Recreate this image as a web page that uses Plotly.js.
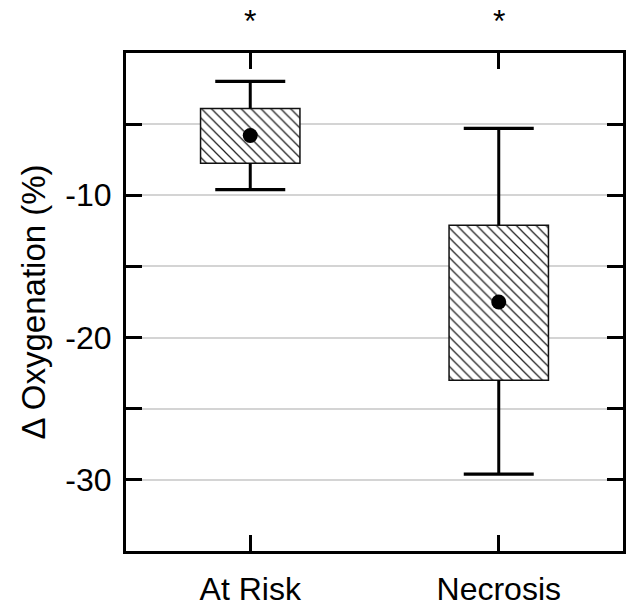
<!DOCTYPE html>
<html>
<head>
<meta charset="utf-8">
<script src="https://cdn.plot.ly/plotly-3.0.1.min.js"></script>
<style>html,body{margin:0;padding:0;background:#fff;}#chart{width:627px;height:612px;}</style>
</head>
<body>
<div id="chart"></div>
<script>
// Data
var categories = ['At Risk', 'Necrosis'];
var whiskerTop = [-2.0, -5.3];
var boxTop = [-3.9, -12.1];
var meanVal = [-5.8, -17.5];
var boxBottom = [-7.75, -23.0];
var whiskerBottom = [-9.6, -29.6];
var significance = ['*', '*'];
var yTickVals = [-5, -10, -15, -20, -25, -30];
var yTickText = ['', '-10', '', '-20', '', '-30'];

var FONT = 'Liberation Sans, Arial, sans-serif';

// hatched boxes
var boxTrace = {
  type: 'bar',
  x: categories,
  base: boxBottom,
  y: boxTop.map(function (t, i) { return t - boxBottom[i]; }),
  width: 0.4,
  marker: {
    color: 'white',
    line: { color: '#111', width: 1.5 },
    pattern: { shape: '\\', fgcolor: '#222', bgcolor: 'white', size: 7, solidity: 0.18, fillmode: 'replace' }
  },
  hoverinfo: 'skip',
  showlegend: false
};

// whisker stems
var wx = [], wy = [];
categories.forEach(function (c, i) {
  wx.push(c, c, null, c, c, null);
  wy.push(boxTop[i], whiskerTop[i], null, boxBottom[i], whiskerBottom[i], null);
});
var stemTrace = {
  type: 'scatter', mode: 'lines', x: wx, y: wy,
  line: { color: 'black', width: 3 }, hoverinfo: 'skip', showlegend: false, connectgaps: false
};

// whisker caps
var capTrace = {
  type: 'scatter', mode: 'markers',
  x: categories.concat(categories),
  y: whiskerTop.concat(whiskerBottom),
  marker: { symbol: 'line-ew-open', size: 50, color: 'black', line: { color: 'black', width: 3.2 } },
  hoverinfo: 'skip', showlegend: false
};

// mean dots
var meanTrace = {
  type: 'scatter', mode: 'markers', x: categories, y: meanVal,
  marker: { symbol: 'circle', size: 15, color: 'black' },
  hoverinfo: 'skip', showlegend: false
};

var annotations = categories.map(function (c, i) {
  return {
    x: c, xref: 'x', y: 1, yref: 'paper', yanchor: 'bottom', yshift: 12,
    text: significance[i], showarrow: false,
    font: { family: FONT, size: 32, color: 'black' }
  };
});

var layout = {
  width: 627, height: 612,
  margin: { l: 126, r: 4, t: 53, b: 61 },
  paper_bgcolor: 'white', plot_bgcolor: 'white',
  barmode: 'overlay',
  showlegend: false,
  font: { family: FONT, color: 'black' },
  xaxis: {
    type: 'category', range: [-0.5, 1.5],
    showline: true, linecolor: 'black', linewidth: 3, mirror: 'allticks',
    ticks: 'inside', ticklen: 16, tickwidth: 3, tickcolor: 'black',
    showgrid: false, zeroline: false,
    tickfont: { family: FONT, size: 32, color: 'black' },
    ticklabelstandoff: 8
  },
  yaxis: {
    range: [-35, 0],
    tickmode: 'array', tickvals: yTickVals, ticktext: yTickText,
    showline: true, linecolor: 'black', linewidth: 3, mirror: 'allticks',
    ticks: 'inside', ticklen: 16, tickwidth: 3, tickcolor: 'black',
    showgrid: true, gridcolor: '#d4d4d4', gridwidth: 2, zeroline: false,
    tickfont: { family: FONT, size: 32, color: 'black' },
    ticklabelstandoff: 5,
    title: { text: '\u0394 Oxygenation (%)', font: { family: FONT, size: 33, color: 'black' }, standoff: 10 }
  },
  annotations: annotations
};

Plotly.newPlot('chart', [boxTrace, stemTrace, capTrace, meanTrace], layout, { displayModeBar: false, staticPlot: true });
</script>
</body>
</html>
